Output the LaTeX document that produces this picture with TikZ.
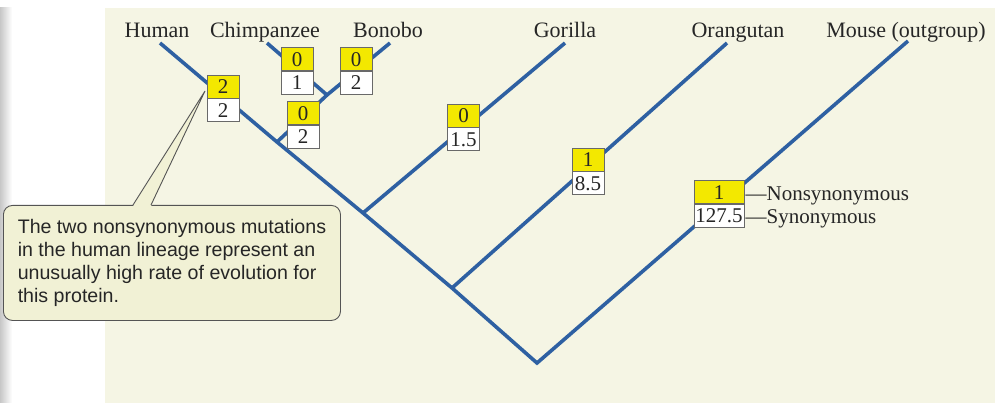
\documentclass[tikz,border=0pt]{standalone}
\usepackage{fontspec}
\setmainfont{Liberation Serif}
\newfontfamily\notefont{Liberation Sans}

\definecolor{pagecream}{RGB}{245,245,228}
\definecolor{notefill}{RGB}{241,241,213}
\definecolor{branchblue}{RGB}{46,96,162}
\definecolor{cellyellow}{RGB}{243,232,0}
\definecolor{cellrule}{RGB}{105,105,105}
\definecolor{inkgray}{RGB}{38,38,38}

\tikzset{
  branch/.style={draw=branchblue, line width=3.6pt, line cap=butt, line join=miter},
  taxon/.style={font=\fontsize{22}{24}\selectfont, text=inkgray, inner sep=0pt, anchor=base},
  cellbase/.style={draw=cellrule, line width=0.9pt, inner sep=0pt, minimum height=23pt,
    text height=14pt, text depth=0pt, font=\fontsize{21}{23}\selectfont, text=inkgray},
  ncell/.style={cellbase, fill=cellyellow, anchor=south},
  scell/.style={cellbase, fill=white, anchor=north},
  keylabel/.style={font=\fontsize{21}{23}\selectfont, text=inkgray, inner sep=0pt, anchor=base west},
  notebox/.style={draw=cellrule!80!black, line width=0.9pt, fill=notefill, rounded corners=9pt,
    minimum width=337pt, minimum height=115pt, inner sep=0pt,
    align=left, text=inkgray,
    font=\notefont\fontsize{19.6}{22.7}\selectfont, anchor=north west},
}

% one mutation box: yellow cell (nonsynonymous) over white cell (synonymous)
\newcommand\mutbox[5]{%
  \node[ncell, minimum width=#5] (#1n) at (#2) {#3};
  \node[scell, minimum width=#5] (#1s) at (#1n.south) {#4};%
}

\begin{document}
\begin{tikzpicture}[x=1pt, y=-1pt]
\useasboundingbox (0,0) rectangle (995,403);

% page
\fill[white] (0,0) rectangle (995,403);
\fill[pagecream] (105,8) rectangle (995,403);
\shade[left color=black!22, right color=white] (0,8) rectangle (12,403);

% tree tips, junctions and root
\coordinate (tHum) at (160,43);
\coordinate (tChi) at (267,43);
\coordinate (tBon) at (390,43);
\coordinate (tGor) at (565,43);
\coordinate (tOra) at (727,43);
\coordinate (tMou) at (908,41);
\coordinate (jCB)  at (327,95);
\coordinate (jHC)  at (277,142);
\coordinate (jG)   at (363,213);
\coordinate (jO)   at (452,288);
\coordinate (root) at (537,363);

% branches
\draw[branch] (tHum) -- (jHC) -- (jG) -- (jO) -- (root) -- (tMou);
\draw[branch] (tChi) -- (jCB);
\draw[branch] (tBon) -- (jCB) -- (jHC);
\draw[branch] (tGor) -- (jG);
\draw[branch] (tOra) -- (jO);

% taxon names
\node[taxon] (nHum) at (157,38) {Human};
\node[taxon] (nChi) at (265,38) {Chimpanzee};
\node[taxon] (nBon) at (388,38) {Bonobo};
\node[taxon] (nGor) at (565,38) {Gorilla};
\node[taxon] (nOra) at (738,38) {Orangutan};
\node[taxon] (nMou) at (906,38) {Mouse (outgroup)};

% mutation counts on each branch
\mutbox{bHum}{223,98.5}{2}{2}{32pt}
\mutbox{bChi}{297,71}{0}{1}{32pt}
\mutbox{bBon}{356,71}{0}{2}{32pt}
\mutbox{bCB}{303,125}{0}{2}{32pt}
\mutbox{bGor}{463.5,127.5}{0}{1.5}{32pt}
\mutbox{bOra}{588,171.5}{1}{8.5}{32pt}
\mutbox{bMou}{719,204}{1}{127.5}{50pt}

% key to the two cells
\node[keylabel] (kN) at ([xshift=1pt,yshift=3pt]bMoun.south east) {—Nonsynonymous};
\node[keylabel] (kS) at ([xshift=1pt,yshift=-20pt]bMoun.south east) {—Synonymous};

% callout
\node[notebox] (note) at (3,205) {The two nonsynonymous mutations\\
in the human lineage represent an\\
unusually high rate of evolution for\\
this protein.};
\coordinate (pTip) at (205,91);
\coordinate (pL) at (133,205);
\coordinate (pR) at (151,205);
\fill[notefill] ([yshift=-1.2pt]pL) -- (pTip) -- ([yshift=-1.2pt]pR) -- cycle;
\draw[cellrule!80!black, line width=0.9pt] (pL) -- (pTip) -- (pR);
\end{tikzpicture}
\end{document}
